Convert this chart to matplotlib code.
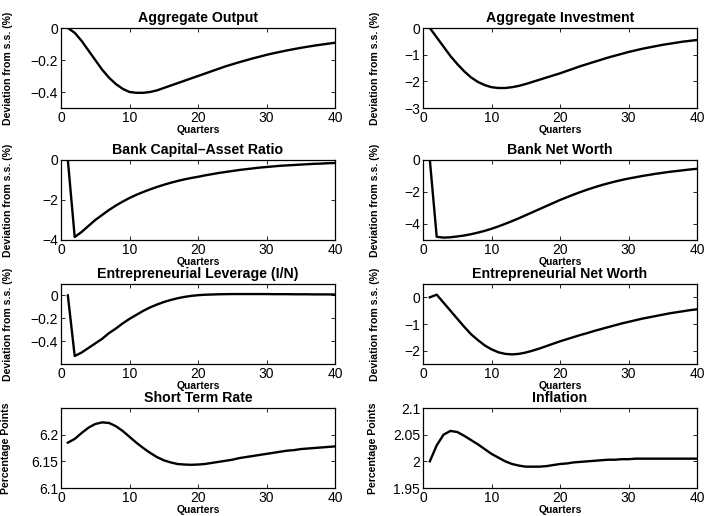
import matplotlib
matplotlib.use("Agg")
import matplotlib.pyplot as plt
import numpy as np

plt.rcParams['font.family'] = ['Liberation Sans', 'DejaVu Sans']

quarters = list(range(1, 41))

output = [0, -0.03, -0.08, -0.14, -0.20, -0.26, -0.31, -0.35, -0.38, -0.40,
          -0.405, -0.405, -0.40, -0.39, -0.375, -0.36, -0.345, -0.33, -0.315, -0.30,
          -0.285, -0.27, -0.255, -0.24, -0.227, -0.214, -0.202, -0.19, -0.179, -0.168,
          -0.158, -0.149, -0.14, -0.132, -0.124, -0.117, -0.11, -0.104, -0.098, -0.092]

investment = [0, -0.35, -0.7, -1.05, -1.35, -1.62, -1.85, -2.02, -2.14, -2.22,
              -2.25, -2.25, -2.22, -2.17, -2.1, -2.02, -1.94, -1.86, -1.78, -1.7,
              -1.61, -1.52, -1.43, -1.35, -1.27, -1.19, -1.11, -1.04, -0.97, -0.9,
              -0.84, -0.78, -0.73, -0.68, -0.63, -0.59, -0.55, -0.51, -0.48, -0.45]

bank_car = [0, -3.85, -3.6, -3.3, -3.0, -2.75, -2.5, -2.28, -2.08, -1.9,
            -1.74, -1.6, -1.47, -1.35, -1.24, -1.14, -1.05, -0.97, -0.9, -0.84,
            -0.77, -0.71, -0.65, -0.6, -0.55, -0.5, -0.46, -0.42, -0.38, -0.35,
            -0.32, -0.29, -0.27, -0.25, -0.23, -0.21, -0.19, -0.18, -0.16, -0.15]

bank_nw = [0, -4.8, -4.85, -4.83, -4.78, -4.72, -4.64, -4.54, -4.43, -4.3,
           -4.15, -3.99, -3.82, -3.64, -3.45, -3.26, -3.07, -2.88, -2.69, -2.5,
           -2.33, -2.16, -2.0, -1.85, -1.71, -1.58, -1.46, -1.35, -1.25, -1.16,
           -1.08, -1.0, -0.93, -0.86, -0.8, -0.74, -0.69, -0.64, -0.59, -0.55]

ent_lev = [0, -0.53, -0.5, -0.46, -0.42, -0.38, -0.33, -0.29, -0.245, -0.205,
           -0.17, -0.135, -0.105, -0.08, -0.058, -0.04, -0.025, -0.013, -0.004, 0.002,
           0.006, 0.008, 0.01, 0.011, 0.012, 0.012, 0.012, 0.012, 0.012, 0.012,
           0.011, 0.011, 0.011, 0.010, 0.010, 0.010, 0.009, 0.009, 0.009, 0.008]

ent_nw = [0, 0.1, -0.2, -0.5, -0.8, -1.1, -1.38, -1.6, -1.8, -1.95,
          -2.06, -2.12, -2.14, -2.12, -2.07, -2.0, -1.92, -1.83, -1.74, -1.65,
          -1.57, -1.49, -1.41, -1.34, -1.26, -1.19, -1.12, -1.05, -0.98, -0.92,
          -0.86, -0.8, -0.75, -0.7, -0.65, -0.6, -0.56, -0.52, -0.48, -0.45]

short_rate = [6.185, 6.192, 6.203, 6.213, 6.22, 6.223, 6.222, 6.216, 6.207, 6.196,
              6.185, 6.175, 6.166, 6.158, 6.152, 6.148, 6.145, 6.144, 6.1435, 6.144,
              6.145, 6.147, 6.149, 6.151, 6.153, 6.156, 6.158, 6.16, 6.162, 6.164,
              6.166, 6.168, 6.17, 6.171, 6.173, 6.174, 6.175, 6.176, 6.177, 6.178]

inflation = [2.0, 2.03, 2.05, 2.057, 2.055, 2.048, 2.04, 2.032, 2.023, 2.014,
             2.007, 2.0, 1.995, 1.992, 1.99, 1.99, 1.99, 1.991, 1.993, 1.995,
             1.996, 1.998, 1.999, 2.0, 2.001, 2.002, 2.003, 2.003, 2.004, 2.004,
             2.005, 2.005, 2.005, 2.005, 2.005, 2.005, 2.005, 2.005, 2.005, 2.005]

titles = ["Aggregate Output", "Aggregate Investment",
          "Bank Capital\u2013Asset Ratio", "Bank Net Worth",
          "Entrepreneurial Leverage (I/N)", "Entrepreneurial Net Worth",
          "Short Term Rate", "Inflation"]
series = [output, investment, bank_car, bank_nw, ent_lev, ent_nw, short_rate, inflation]
ylims = [(-0.5, 0), (-3, 0), (-4, 0), (-5, 0), (-0.6, 0.1), (-2.5, 0.5), (6.1, 6.25), (1.95, 2.1)]
yticks = [[-0.4, -0.2, 0], [-3, -2, -1, 0], [-4, -2, 0], [-4, -2, 0],
          [-0.4, -0.2, 0], [-2, -1, 0], [6.1, 6.15, 6.2], [1.95, 2, 2.05, 2.1]]
yticklabels = [["\u22120.4", "\u22120.2", "0"], ["\u22123", "\u22122", "\u22121", "0"],
               ["\u22124", "\u22122", "0"], ["\u22124", "\u22122", "0"],
               ["\u22120.4", "\u22120.2", "0"], ["\u22122", "\u22121", "0"],
               ["6.1", "6.15", "6.2"], ["1.95", "2", "2.05", "2.1"]]
ylabels = ["Deviation from s.s. (%)"] * 6 + ["Percentage Points"] * 2

W, H = 707, 516
fig = plt.figure(figsize=(W / 100, H / 100), dpi=100)
lefts = [61, 423]
tops = [28, 160, 284, 408]
aw, ah = 274, 80
label_x = [13, 380]

for i in range(8):
    r, c = divmod(i, 2)
    ax = fig.add_axes([lefts[c] / W, 1 - (tops[r] + ah) / H, aw / W, ah / H])
    ax.plot(quarters, series[i], color='black', lw=1.7)
    ax.set_xlim(0, 40)
    ax.set_ylim(*ylims[i])
    ax.set_xticks([0, 10, 20, 30, 40])
    ax.set_yticks(yticks[i])
    ax.set_yticklabels(yticklabels[i])
    ax.tick_params(direction='in', top=True, right=True, length=3, width=0.6,
                   labelsize=10, pad=2)
    for s in ax.spines.values():
        s.set_linewidth(0.9)
    ax.set_title(titles[i], fontsize=10.2, fontweight='bold', pad=4)
    ax.set_xlabel("Quarters", fontsize=7.5, fontweight='bold', labelpad=0)
    ax.set_ylabel(ylabels[i], fontsize=7.6, fontweight='bold')
    lx = label_x[c] - (2 if r == 3 else 0)
    ax.yaxis.set_label_coords((lx - lefts[c]) / aw, 0.5)

fig.savefig("out.png", dpi=100)
